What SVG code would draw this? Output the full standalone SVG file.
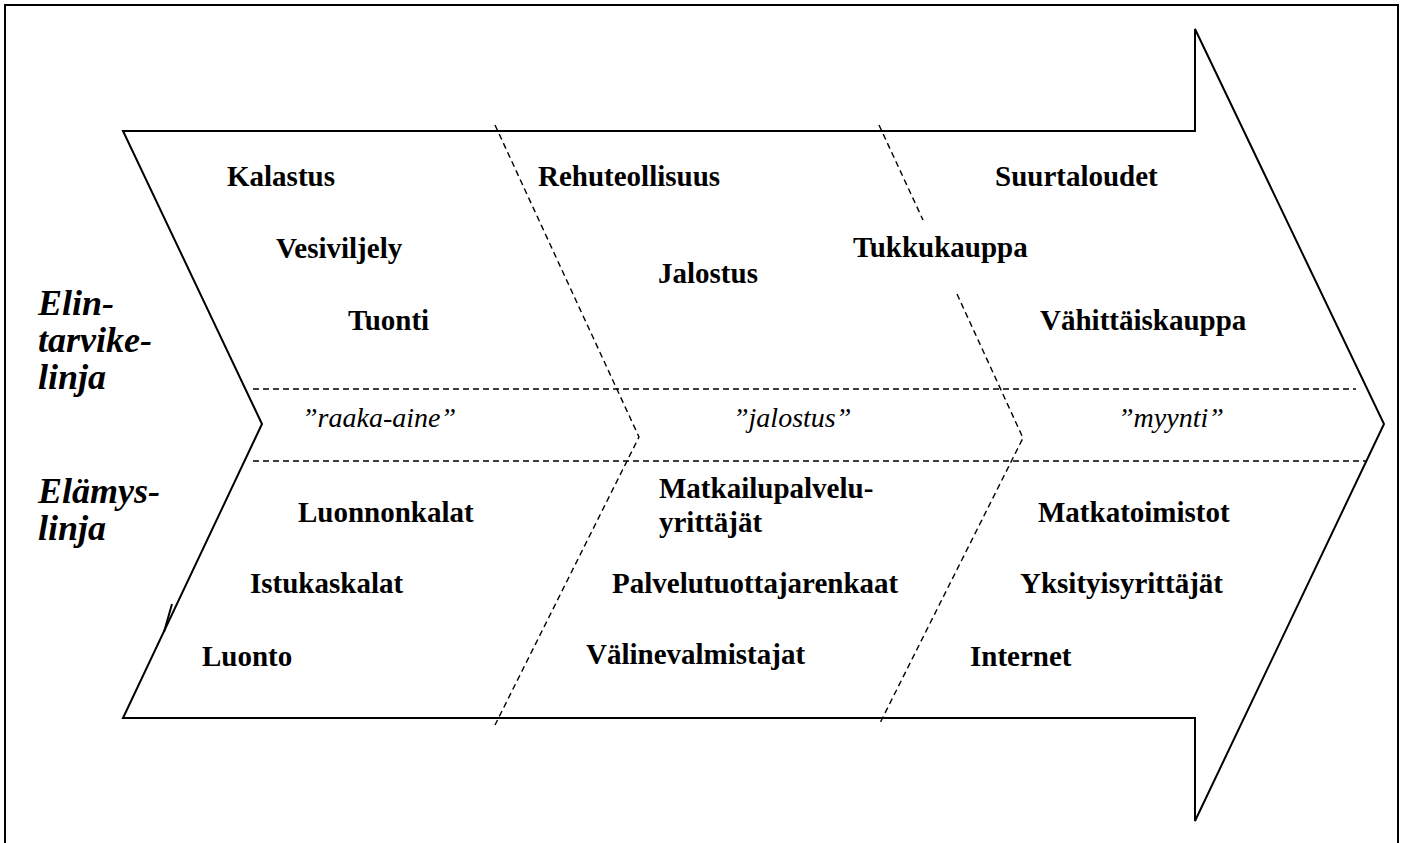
<svg xmlns="http://www.w3.org/2000/svg" width="1404" height="843" viewBox="0 0 1404 843">
<style>
.ln{fill:none;stroke:#000;stroke-width:2}
.dash{fill:none;stroke:#000;stroke-width:1.4;stroke-dasharray:6 4}
text{font-family:'Liberation Serif','DejaVu Serif',serif;fill:#000}
.b{font-weight:bold;font-size:29px}
.bi{font-weight:bold;font-style:italic;font-size:36px}
.i{font-style:italic;font-size:28px}
</style>
<rect width="1404" height="843" fill="#fff"/>
<path class="ln" d="M5,845 V5 H1398 V845"/>
<g id="arrow">
<path class="ln" d="M123,131 H1195 V29 L1384,424 L1195,821 V718 H123 L262,424 Z"/>
<path class="ln" d="M172,604 L164,632"/>
</g>
<g id="connectors">
<path class="dash" d="M253,389 H1356"/>
<path class="dash" d="M253,461 H1367"/>
<path class="dash" d="M495,125 L639,437 L495,725"/>
<path class="dash" d="M879,125 L923,220"/>
<path class="dash" d="M957,294 L1023,438 L879,725"/>
</g>
<g id="line-labels">
<text class="bi" x="38" y="315">Elin-</text>
<text class="bi" x="38" y="352">tarvike-</text>
<text class="bi" x="38" y="389">linja</text>
<text class="bi" x="38" y="503">Elämys-</text>
<text class="bi" x="38" y="540">linja</text>
</g>
<g id="stages">
<text class="i" x="302" y="427">”raaka-aine”</text>
<text class="i" x="733" y="427">”jalostus”</text>
<text class="i" x="1118" y="427">”myynti”</text>
</g>
<g id="raaka-aine-top">
<text class="b" x="227" y="186">Kalastus</text>
<text class="b" x="276" y="258">Vesiviljely</text>
<text class="b" x="348" y="330">Tuonti</text>
</g>
<g id="jalostus-top">
<text class="b" x="538" y="186">Rehuteollisuus</text>
<text class="b" x="658" y="283">Jalostus</text>
</g>
<g id="myynti-top">
<text class="b" x="853" y="257">Tukkukauppa</text>
<text class="b" x="995" y="186">Suurtaloudet</text>
<text class="b" x="1040" y="330">Vähittäiskauppa</text>
</g>
<g id="raaka-aine-bottom">
<text class="b" x="298" y="522">Luonnonkalat</text>
<text class="b" x="250" y="593">Istukaskalat</text>
<text class="b" x="202" y="666">Luonto</text>
</g>
<g id="jalostus-bottom">
<text class="b" x="659" y="498">Matkailupalvelu-</text>
<text class="b" x="659" y="532">yrittäjät</text>
<text class="b" x="612" y="593">Palvelutuottajarenkaat</text>
<text class="b" x="586" y="664">Välinevalmistajat</text>
</g>
<g id="myynti-bottom">
<text class="b" x="1038" y="522">Matkatoimistot</text>
<text class="b" x="1020" y="593">Yksityisyrittäjät</text>
<text class="b" x="970" y="666">Internet</text>
</g>
</svg>
